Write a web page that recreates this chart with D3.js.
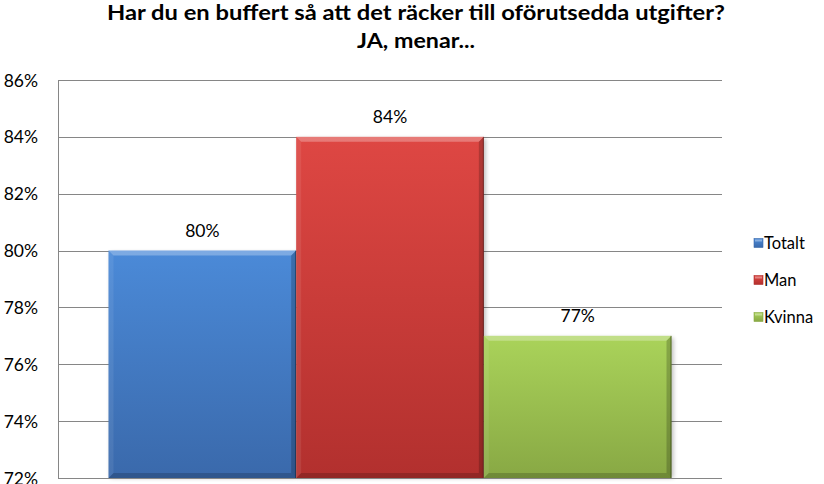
<!DOCTYPE html>
<html>
<head>
<meta charset="utf-8">
<script src="https://cdn.jsdelivr.net/npm/d3@7/dist/d3.min.js"></script>
<style>
  html, body { margin: 0; padding: 0; background: #fff; }
  svg { display: block; }
</style>
</head>
<body>
<div id="chart"></div>
<script>
// ---- data ----
const titleLines = ["Har du en buffert så att det räcker till oförutsedda utgifter?", "JA, menar..."];
const series = ["Totalt", "Man", "Kvinna"];
const values = [80, 84, 77];
const yTicks = [72, 74, 76, 78, 80, 82, 84, 86];
const groups = [""];

// ---- styles ----
const palette = {
  Totalt: { top: "#4B8AD8", bottom: "#3A69AB" },
  Man:    { top: "#DE4743", bottom: "#B2302E" },
  Kvinna: { top: "#AAD35A", bottom: "#88A844" }
};
const titleWidths = [618, 118];
const W = 824, H = 484;
const font = "Lato, Carlito, 'Liberation Sans', sans-serif";

const svg = d3.select("#chart").append("svg").attr("width", W).attr("height", H);
const defs = svg.append("defs");

series.forEach((s, i) => {
  const g = defs.append("linearGradient").attr("id", "grad" + i)
    .attr("x1", 0).attr("y1", 0).attr("x2", 0).attr("y2", 1);
  g.append("stop").attr("offset", "0%").attr("stop-color", palette[s].top);
  g.append("stop").attr("offset", "100%").attr("stop-color", palette[s].bottom);
});
const f = defs.append("filter").attr("id", "shadow").attr("x", "-10%").attr("y", "-10%").attr("width", "130%").attr("height", "130%");
f.append("feGaussianBlur").attr("stdDeviation", 2);

const plot = { left: 58, right: 722, top: 80, bottom: 478 };

const y = d3.scaleLinear().domain([72, 86]).range([plot.bottom, plot.top]);
const x0 = d3.scaleBand().domain(groups).range([plot.left, plot.right])
  .paddingInner(0).paddingOuter(0.0897);
const x1 = d3.scaleBand().domain(series).range([0, x0.bandwidth()]).padding(0);

// title
titleLines.forEach((t, i) => {
  svg.append("text")
    .attr("x", 416).attr("y", 20 + i * 28)
    .attr("text-anchor", "middle")
    .attr("font-family", font).attr("font-weight", "bold")
    .attr("font-size", 20.5).attr("fill", "#000")
    .attr("textLength", titleWidths[i]).attr("lengthAdjust", "spacingAndGlyphs")
    .text(t);
});

// gridlines
svg.append("g").selectAll("line").data(yTicks).join("line")
  .attr("x1", plot.left).attr("x2", plot.right)
  .attr("y1", d => Math.round(y(d)) + 0.5).attr("y2", d => Math.round(y(d)) + 0.5)
  .attr("stroke", "#868686").attr("stroke-width", 1);

// y axis
const yAxis = d3.axisLeft(y).tickValues(yTicks).tickSize(0).tickPadding(20)
  .tickFormat(d => d + "%");
const ya = svg.append("g").attr("transform", `translate(${plot.left},0)`).call(yAxis);
ya.select(".domain").attr("stroke", "#868686").attr("d", `M0.5,${plot.top}V${plot.bottom + 0.5}`);
ya.selectAll("text").attr("font-family", font).attr("font-size", 17.5).attr("fill", "#000")
  .attr("dy", "0.35em");

// bars
const bars = svg.append("g");
const b = 5;
series.forEach((s, i) => {
  const v = values[i];
  const x = x0("") + x1(s);
  const w = x1.bandwidth();
  const yt = y(v);
  const h = plot.bottom - yt;
  const g = bars.append("g");
  // shadow
  g.append("rect").attr("x", x + 2).attr("y", yt + 2).attr("width", w).attr("height", h - 2)
    .attr("fill", "#000").attr("opacity", 0.25).attr("filter", "url(#shadow)");
  g.append("rect").attr("x", x).attr("y", yt).attr("width", w).attr("height", h)
    .attr("fill", `url(#grad${i})`);
  // bevels
  g.append("polygon").attr("points", [[x, yt], [x + w, yt], [x + w - b, yt + b], [x + b, yt + b]].join(" "))
    .attr("fill", "#fff").attr("opacity", 0.28);
  g.append("polygon").attr("points", [[x, yt], [x + b, yt + b], [x + b, yt + h - b], [x, yt + h]].join(" "))
    .attr("fill", "#fff").attr("opacity", 0.08);
  g.append("polygon").attr("points", [[x + w, yt], [x + w, yt + h], [x + w - b, yt + h - b], [x + w - b, yt + b]].join(" "))
    .attr("fill", "#000").attr("opacity", 0.2);
  g.append("polygon").attr("points", [[x, yt + h], [x + w, yt + h], [x + w - b, yt + h - b], [x + b, yt + h - b]].join(" "))
    .attr("fill", "#000").attr("opacity", 0.18);
  g.append("line").attr("x1", x + w - 0.5).attr("x2", x + w - 0.5).attr("y1", yt).attr("y2", yt + h)
    .attr("stroke", "#000").attr("stroke-opacity", 0.35);
  // label
  svg.append("text")
    .attr("x", x + w / 2).attr("y", yt - 14)
    .attr("text-anchor", "middle")
    .attr("font-family", font).attr("font-size", 17.5).attr("fill", "#000")
    .text(v + "%");
});

// bottom axis line
svg.append("line").attr("x1", plot.left).attr("x2", plot.right)
  .attr("y1", plot.bottom + 0.5).attr("y2", plot.bottom + 0.5).attr("stroke", "#868686");

// legend
const legend = svg.append("g");
series.forEach((s, i) => {
  const cy = 243 + i * 37;
  legend.append("rect").attr("x", 754).attr("y", cy - 4.5).attr("width", 9).attr("height", 9)
    .attr("fill", `url(#grad${i})`).attr("stroke", palette[s].bottom).attr("stroke-width", 0.6);
  legend.append("rect").attr("x", 755).attr("y", cy - 3.5).attr("width", 7).attr("height", 2)
    .attr("fill", "#fff").attr("opacity", 0.35);
  legend.append("text").attr("x", 764).attr("y", cy).attr("dy", "0.35em")
    .attr("font-family", font).attr("font-size", 16.5).attr("fill", "#000")
    .text(s);
});
</script>
</body>
</html>
